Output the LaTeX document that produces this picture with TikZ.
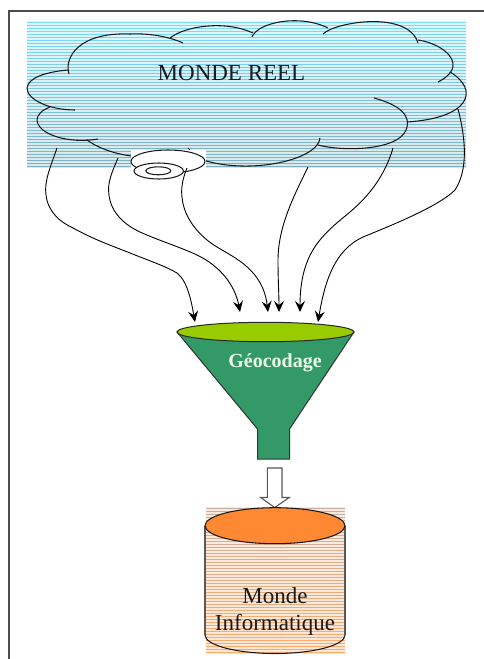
\documentclass[tikz,border=0pt]{standalone}
\usepackage{fontspec}
\setmainfont{Liberation Serif}
\usetikzlibrary{arrows.meta}
\definecolor{funnelgreen}{HTML}{339966}
\definecolor{funneltop}{HTML}{99CC00}
\definecolor{cyltop}{HTML}{FF8833}
\definecolor{cloudA}{HTML}{77DDFF}
\definecolor{cloudB}{HTML}{7FB0C0}
\definecolor{cloudC}{HTML}{DDF6FF}
\definecolor{cloudD}{HTML}{D8E8EC}
\definecolor{cylA}{HTML}{C8B09C}
\definecolor{cylB}{HTML}{FFAA66}
\definecolor{cylC}{HTML}{F6EAE0}
\definecolor{cylD}{HTML}{FFE8D8}
\tikzset{
  outline/.style={line width=1.05pt,black!90},
  flow/.style={line width=0.9pt,black,-{Stealth[length=11pt,width=10pt,inset=4pt]}},
  label/.style={font=\fontsize{23}{26}\selectfont,text=black!90,align=center,inner sep=0pt},
}
\begin{document}
\begin{tikzpicture}[x=1pt,y=-1pt]
\useasboundingbox (0,0) rectangle (484,659);
\fill[white] (0,0) rectangle (484,659);
% frame
\draw[line width=2pt,black!70] (8.5,660) -- (8.5,11) -- (485,11);
% cloud stripes
\foreach \yy in {21,24,...,165}{
  \pgfmathtruncatemacro\pct{100*(\yy-21)/144}
  \colorlet{barcol}{cloudB!\pct!cloudA}
  \colorlet{gapcol}{cloudD!\pct!cloudC}
  \fill[gapcol] (27,\yy) rectangle (466,\yy+3);
  \fill[barcol] (27,\yy+0.7) rectangle (466,\yy+2);
}
% cloud outline
\draw[outline] (69,74) .. controls (64,58) and (78,32) .. (130,34) .. controls (150,33) and (170,37) .. (183,43);
\draw[outline] (170,38) .. controls (185,26) and (225,20) .. (253,33);
\draw[outline] (252,37) .. controls (258,22) and (300,14) .. (328,28);
\draw[outline] (323,34) .. controls (335,22) and (408,10) .. (418,43);
\draw[outline] (418,40) .. controls (445,44) and (470,66) .. (438,82);
\draw[outline] (450,72) .. controls (480,90) and (470,118) .. (407,122);
\draw[outline] (374,98) .. controls (400,105) and (412,116) .. (406,130) .. controls (398,150) and (345,152) .. (318,145);
\draw[outline] (320,138) .. controls (318,160) and (250,175) .. (203,160);
\draw[outline] (188,148) -- (192,152);
\draw[outline] (131,156) .. controls (110,153) and (95,146) .. (87,140);
\draw[outline] (98,139) .. controls (70,144) and (38,135) .. (37,120) .. controls (37,115) and (42,110) .. (50,107);
\draw[outline] (75,110) .. controls (50,110) and (27,100) .. (27,88) .. controls (28,78) and (45,72) .. (68,70);
% named ends
\coordinate (s1) at (57,148);
\coordinate (s2) at (118,158);
\coordinate (s3) at (187,168);
\coordinate (s4) at (308,167);
\coordinate (s5) at (393,148);
\coordinate (s6) at (458,109);
\coordinate (t1) at (195,322);
\coordinate (t2) at (240,312);
\coordinate (t3) at (268,312);
\coordinate (t4) at (279,312);
\coordinate (t5) at (300,312);
\coordinate (t6) at (318,322);
% small object
\fill[white] (131,150) rectangle (205.5,180);
\draw[outline] (168,161.5) ellipse [x radius=37,y radius=11.5];
\draw[outline,fill=white] (158.7,171) ellipse [x radius=24.7,y radius=8];
\draw[outline] (158.3,170.8) ellipse [x radius=12.5,y radius=4];
% flows
\draw[flow] (s1) .. controls (50,168) and (44,182) .. (46,195) .. controls (48,212) and (60,222) .. (73,228) .. controls (95,240) and (110,245) .. (130,253) .. controls (150,261) and (165,266) .. (177,273) .. controls (188,281) and (192,305) .. (t1);
\draw[flow] (s2) .. controls (112,172) and (107,183) .. (109,195) .. controls (111,213) and (125,225) .. (140,232) .. controls (160,241) and (180,247) .. (197,255) .. controls (220,266) and (235,285) .. (t2);
\draw[flow] (s3) .. controls (182,180) and (181,190) .. (182,197) .. controls (184,222) and (205,240) .. (217,247) .. controls (235,258) and (263,270) .. (t3);
\draw[flow] (s4) .. controls (296,192) and (278,225) .. (278,260) .. controls (278,280) and (279,295) .. (t4);
\draw[flow] (s5) .. controls (385,175) and (370,195) .. (350,212) .. controls (325,233) and (300,250) .. (t5);
\draw[flow] (s6) .. controls (466,140) and (468,170) .. (455,190) .. controls (440,205) and (400,222) .. (363,237) .. controls (335,250) and (325,280) .. (t6);
% funnel
\draw[line width=1pt,black!80,fill=funnelgreen] (177,332) -- (257.5,429) -- (257.5,459) -- (289.5,459) -- (289.5,429) -- (354,332) -- cycle;
\draw[line width=1pt,black!85,fill=funneltop] (265.5,332) ellipse [x radius=88.5,y radius=9.7];
\node[font=\bfseries\fontsize{20}{24}\selectfont,text=white!92!green,inner sep=0pt] (geo) at (275,363) {Géocodage};
% hollow arrow
\coordinate (a1) at (274.7,468);
\coordinate (a2) at (274.7,507.5);
\draw[line width=1.1pt,black!65,fill=white] (267.3,468) -- (267.3,497.5) -- (260.7,497.5) -- (a2) -- (289.3,497.5) -- (282,497.5) -- (282,468) -- cycle;
% cylinder
\foreach \yy in {507,510,...,651}{
  \pgfmathtruncatemacro\pct{100*(\yy-507)/144}
  \colorlet{barcol}{cylB!\pct!cylA}
  \colorlet{gapcol}{cylD!\pct!cylC}
  \fill[gapcol] (205.7,\yy) rectangle (345,\yy+3);
  \fill[barcol] (205.7,\yy+0.7) rectangle (345,\yy+2);
}
\draw[line width=1.1pt,black!65] (205,525.7) -- (205,635);
\draw[line width=1.1pt,black!65] (345,525.7) -- (345,635);
\draw[outline] (205,635) arc[start angle=180,end angle=0,x radius=70,y radius=18.5];
\draw[outline,fill=cyltop] (275,525.7) ellipse [x radius=70,y radius=18];
% labels
\node[label] (real) at (231.5,73) {MONDE REEL};
\node[label] (mi1) at (275,596) {Monde};
\node[label] (mi2) at (275,625) {Informatique};
\end{tikzpicture}
\end{document}
